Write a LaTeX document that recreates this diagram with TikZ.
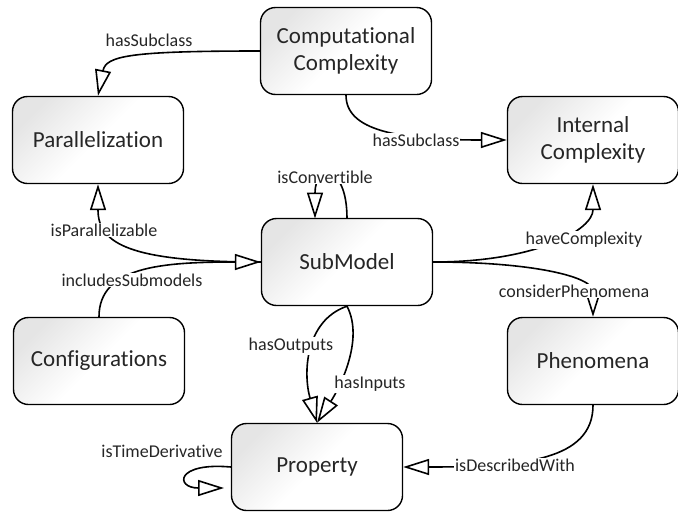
\documentclass[tikz,border=0pt]{standalone}
\usepackage{fontspec}
\setmainfont{Carlito}[RawFeature={-liga;-clig;-dlig}]
\usetikzlibrary{arrows.meta}
\begin{document}
\begin{tikzpicture}[x=1pt,y=-1pt,
  box/.style={draw, line width=1.4pt, rounded corners=15pt, minimum width=171pt, minimum height=87pt,
    align=center, font=\fontsize{23}{27.6}\selectfont, text=black!85, top color=black!10, bottom color=white,
    middle color=white, shading angle=45, inner sep=2pt},
  lbl/.style={fill=white, inner sep=1pt, text=black!85, font=\fontsize{18}{20}\selectfont},
  conn/.style={line width=1.6pt, -{Triangle[length=26pt, width=16pt, fill=white, line width=1.6pt]}}
]
\useasboundingbox (0,0) rectangle (678,512);

\node[box] (cc)   at (346,51)  {Computational\\Complexity};
\node[box] (par)  at (98,140)  {Parallelization};
\node[box] (ic)   at (593,140) {Internal\\Complexity};
\node[box] (sub)  at (347,262) {SubModel};
\node[box] (conf) at (99,361)  {Configurations};
\node[box] (phen) at (593,361) {Phenomena};
\node[box] (prop) at (317,467) {Property};

\coordinate (scA) at (347,218.5);
\coordinate (scB) at (315,218.5);
\coordinate (ptd) at (224,488);

% connectors
\draw[conn] (cc.west) .. controls +(-130,0) and +(8,-40) .. (par.north);
\draw[conn] (cc.south) .. controls +(0,35) and +(-110,0) .. (ic.west);
\draw[conn] (sub.west) .. controls +(-130,0) and +(0,60) .. (par.south);
\draw[conn] (conf.north) .. controls +(0,-50) and +(-100,0) .. (sub.west);
\draw[conn] (scA) .. controls +(0,-55) and +(0,-55) .. (scB);
\draw[conn] (sub.east) .. controls +(105,0) and +(0,45) .. (ic.south);
\draw[conn] (sub.east) .. controls +(100,0) and +(0,-40) .. (phen.north);
\draw[conn] (sub.south) .. controls +(-42,14.5) and +(-14,-49.5) .. (prop.north);
\draw[conn] (sub.south) .. controls +(18,34.5) and +(21,-32.5) .. (prop.north);
\draw[conn] (phen.south) .. controls +(0,55) and +(120,0) .. (prop.east);
\draw[conn] (prop.west) .. controls +(-55.5,-5) and +(-49,0) .. (ptd);

% labels
\node[lbl, fill=none] (l1) at (149,40)  {hasSubclass};
\node[lbl] (l2) at (416,140) {hasSubclass};
\node[lbl] (l3) at (104,230) {isParallelizable};
\node[lbl] (l4) at (132,280) {includesSubmodels};
\node[lbl] (l5) at (325,177) {isConvertible};
\node[lbl] (l6) at (584,240) {haveComplexity};
\node[lbl] (l7) at (574,291) {considerPhenomena};
\node[lbl] (l8) at (291,346) {hasOutputs};
\node[lbl] (l9) at (370,384) {hasInputs};
\node[lbl] (l10) at (515,465) {isDescribedWith};
\node[lbl, fill=none] (l11) at (162,451) {isTimeDerivative};
\end{tikzpicture}
\end{document}
